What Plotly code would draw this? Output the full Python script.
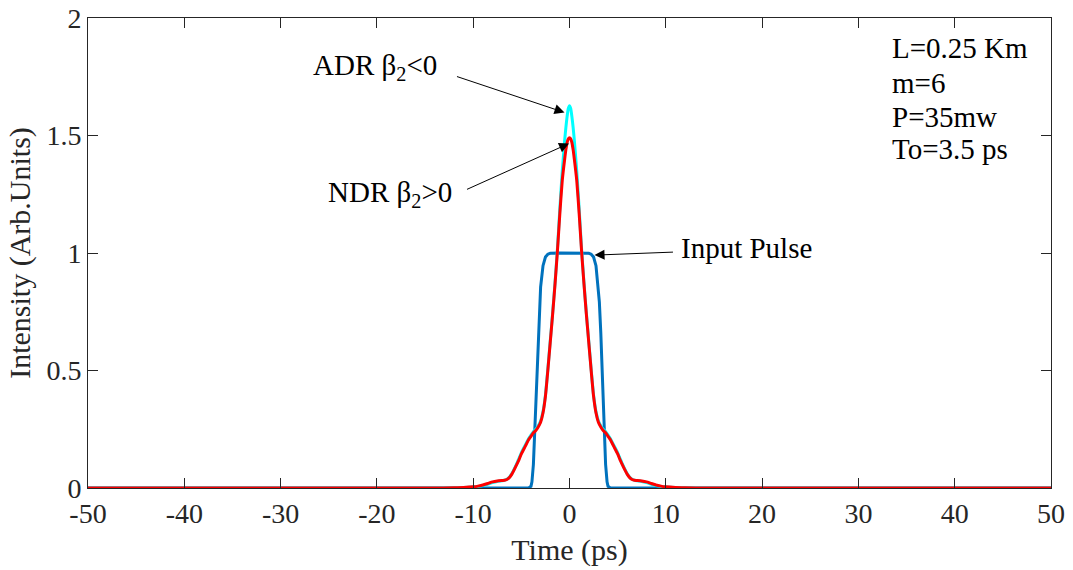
import plotly.graph_objects as go

# ---------------- data ----------------
t_input = [-50, -5, -4.5, -4.25, -4.0, -3.9, -3.75, -3.6, -3.5, -3.4, -3.25, -3.1, -3.0,
           -2.75, -2.5, -2.25, -2.0, -1.0, 0, 1.0, 2.0, 2.25, 2.5, 2.75, 3.0, 3.1, 3.25,
           3.4, 3.5, 3.6, 3.75, 3.9, 4.0, 4.25, 4.5, 5, 50]
I_input = [0, 0, 0, 0.0, 0.007, 0.026, 0.10, 0.246, 0.37, 0.494, 0.66, 0.792, 0.855,
           0.946, 0.983, 0.995, 0.999, 1.0, 1.0, 1.0, 0.999, 0.995, 0.983, 0.946, 0.855, 0.792, 0.66,
           0.494, 0.37, 0.246, 0.10, 0.026, 0.007, 0.0, 0, 0, 0]

t_out = [-50, -14, -12, -11, -10, -9.5, -9.0, -8.5, -8.0, -7.5, -7.0, -6.75, -6.5, -6.25,
         -6.0, -5.75, -5.5, -5.25, -5.0, -4.75, -4.5, -4.25, -4.0, -3.75, -3.5, -3.25,
         -3.0, -2.75, -2.5, -2.25, -2.0, -1.75, -1.5, -1.25, -1.0, -0.75, -0.5, -0.375,
         -0.25, -0.125, 0, 0.125, 0.25, 0.375,
         0.5, 0.75, 1.0, 1.25, 1.5, 1.75, 2.0, 2.25, 2.5, 2.75, 3.0, 3.25, 3.5,
         3.75, 4.0, 4.25, 4.5, 4.75, 5.0, 5.25, 5.5, 5.75, 6.0, 6.25, 6.5, 6.75, 7.0,
         7.5, 8.0, 8.5, 9.0, 9.5, 10, 11, 12, 14, 50]
I_ndr = [0, 0, 0.001, 0.002, 0.005, 0.008, 0.013, 0.019, 0.026, 0.030, 0.032, 0.033, 0.036, 0.044,
         0.058, 0.077, 0.098, 0.12, 0.145, 0.165, 0.185, 0.205, 0.22, 0.235, 0.245, 0.26,
         0.28, 0.32, 0.39, 0.50, 0.62, 0.74, 0.87, 1.01, 1.17, 1.31, 1.40, 1.44,
         1.47, 1.486, 1.49, 1.486, 1.47, 1.44,
         1.40, 1.31, 1.17, 1.01, 0.87, 0.74, 0.62, 0.50, 0.39, 0.32, 0.28, 0.26, 0.245,
         0.235, 0.22, 0.205, 0.185, 0.165, 0.145, 0.12, 0.098, 0.077, 0.058, 0.044, 0.036, 0.033, 0.032,
         0.030, 0.026, 0.019, 0.013, 0.008, 0.005, 0.002, 0.001, 0, 0]
I_adr = [0, 0, 0.001, 0.002, 0.004, 0.006, 0.010, 0.016, 0.023, 0.028, 0.031, 0.033, 0.037, 0.046,
         0.060, 0.080, 0.102, 0.125, 0.150, 0.170, 0.190, 0.210, 0.225, 0.240, 0.250, 0.265,
         0.285, 0.325, 0.395, 0.505, 0.625, 0.745, 0.875, 1.02, 1.19, 1.35, 1.48, 1.535,
         1.58, 1.615, 1.627, 1.615, 1.58, 1.535,
         1.48, 1.35, 1.19, 1.02, 0.875, 0.745, 0.625, 0.505, 0.395, 0.325, 0.285, 0.265, 0.250,
         0.240, 0.225, 0.210, 0.190, 0.170, 0.150, 0.125, 0.102, 0.080, 0.060, 0.046, 0.037, 0.033, 0.031,
         0.028, 0.023, 0.016, 0.010, 0.006, 0.004, 0.002, 0.001, 0, 0]

x_ticks = [-50, -40, -30, -20, -10, 0, 10, 20, 30, 40, 50]
x_tick_text = ["-50", "-40", "-30", "-20", "-10", "0", "10", "20", "30", "40", "50"]
y_ticks = [0, 0.5, 1, 1.5, 2]
y_tick_text = ["0", "0.5", "1", "1.5", "2"]

params = ["L=0.25 Km", "m=6", "P=35mw", "To=3.5 ps"]

FONT = "Liberation Serif, Times New Roman, serif"
AX = "#262626"

fig = go.Figure()
fig.add_trace(go.Scatter(x=t_input, y=I_input, mode="lines",
                         line=dict(color="#0072BD", width=3), name="Input"))
fig.add_trace(go.Scatter(x=t_out, y=I_adr, mode="lines",
                         line=dict(color="#00FFFF", width=3, shape="spline", smoothing=0.5), name="ADR"))
fig.add_trace(go.Scatter(x=t_out, y=I_ndr, mode="lines",
                         line=dict(color="#FF0000", width=3, shape="spline", smoothing=0.5), name="NDR"))

axis_common = dict(showline=True, linecolor=AX, linewidth=1, mirror="ticks",
                   ticks="inside", ticklen=10, tickcolor=AX, tickwidth=1,
                   showgrid=False, zeroline=False, automargin=False,
                   ticklabeloverflow="allow",
                   tickfont=dict(family=FONT, size=28, color=AX))

fig.update_xaxes(range=[-50, 50], tickvals=x_ticks, ticktext=x_tick_text,
                 title=dict(text="Time (ps)", font=dict(family=FONT, size=30, color=AX), standoff=11),
                 **axis_common)
fig.update_yaxes(range=[0, 2], tickvals=y_ticks, ticktext=y_tick_text,
                 title=dict(text="Intensity (Arb.Units)", font=dict(family=FONT, size=30, color=AX), standoff=6),
                 **axis_common)

ann = []
# arrows (tail -> tip in data coordinates)
arrows = [(-11.84, 1.753, -0.52, 1.598),
          (-10.8, 1.268, -0.05, 1.466),
          (10.9, 1.004, 2.6, 0.991)]
for ax_, ay_, x_, y_ in arrows:
    ann.append(dict(x=x_, y=y_, ax=ax_, ay=ay_, xref="x", yref="y", axref="x", ayref="y",
                    text="", showarrow=True, arrowhead=2, arrowsize=2, arrowwidth=1,
                    arrowcolor="black"))
TF = dict(family=FONT, size=29, color="black")
ann.append(dict(x=-13.55, y=1.79, xref="x", yref="y", text="ADR β<sub>2</sub><0",
                showarrow=False, xanchor="right", yanchor="middle", font=TF))
ann.append(dict(x=-12.0, y=1.253, xref="x", yref="y", text="NDR β<sub>2</sub>>0",
                showarrow=False, xanchor="right", yanchor="middle", font=TF))
ann.append(dict(x=11.37, y=1.021, xref="x", yref="y", text="Input Pulse",
                showarrow=False, xanchor="left", yanchor="middle", font=TF))
for txt, yy in zip(params, [1.871, 1.723, 1.58, 1.441]):
    ann.append(dict(x=33.28, y=yy, xref="x", yref="y", text=txt,
                    showarrow=False, xanchor="left", yanchor="middle", font=TF))

fig.update_layout(width=1073, height=570,
                  margin=dict(l=88, r=22, t=18, b=82),
                  paper_bgcolor="white", plot_bgcolor="white",
                  showlegend=False, annotations=ann,
                  font=dict(family=FONT))

# remove the browser's default 8px body margin so the figure sits at the page origin
fig.write_html("out.html", config={"displayModeBar": False},
               post_script="document.body.style.margin='0';document.body.style.overflow='hidden';")
